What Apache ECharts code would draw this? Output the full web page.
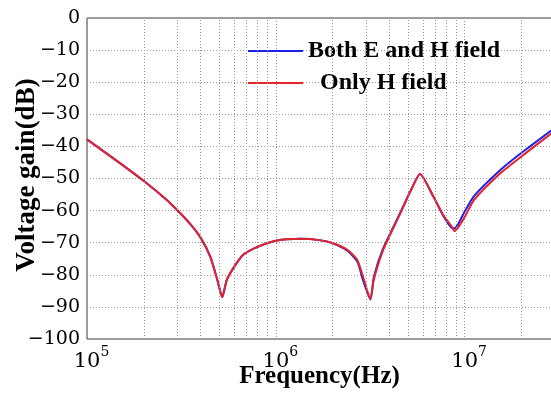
<!DOCTYPE html>
<html>
<head>
<meta charset="utf-8">
<script src="https://cdn.jsdelivr.net/npm/echarts@6/dist/echarts.min.js"></script>
<style>
  html, body { margin: 0; padding: 0; background: #fff; }
  #chart { width: 551px; height: 396px; }
</style>
</head>
<body>
<div id="chart"></div>
<script>
// frequency points (Hz)
var freqHz = [1.0e5, 1.5e5, 2.0e5, 2.6e5, 3.0e5, 3.5e5, 4.0e5, 4.5e5, 4.9e5, 5.2e5,
  5.5e5, 6.0e5, 6.7e5, 8.0e5, 1.0e6, 1.35e6, 1.7e6, 2.0e6, 2.4e6, 2.7e6,
  2.9e6, 3.17e6, 3.3e6, 3.7e6, 4.6e6, 5.2e6, 5.8e6, 6.85e6, 7.7e6, 8.5e6,
  8.85e6, 1.0e7, 1.12e7, 1.55e7, 2.0e7, 2.9e7];
var bothEH = [-37.8, -45.3, -50.8, -56.3, -59.8, -64.0, -68.5, -74.4, -81.6, -87.0,
  -81.6, -77.6, -73.8, -71.3, -69.4, -68.8, -69.2, -70.2, -72.6, -75.9,
  -81.8, -87.7, -80.8, -71.8, -60.2, -53.5, -48.6, -55.8, -61.6, -65.3,
  -65.5, -60.3, -55.5, -47.3, -42.0, -34.9];
var onlyH = [-37.8, -45.3, -50.8, -56.3, -59.8, -64.0, -68.5, -74.4, -81.6, -87.0,
  -81.6, -77.6, -73.8, -71.3, -69.4, -68.8, -69.2, -70.1, -72.3, -75.4,
  -80.7, -87.5, -81.6, -72.3, -60.4, -53.6, -48.6, -55.8, -61.4, -64.8,
  -66.4, -62.0, -56.7, -48.3, -43.1, -35.8];
var minorGridHz = [2e5, 3e5, 4e5, 5e5, 6e5, 7e5, 8e5, 9e5,
  2e6, 3e6, 4e6, 5e6, 6e6, 7e6, 8e6, 9e6, 2e7];

function pairs(xs, ys) {
  return xs.map(function (x, i) { return [x, ys[i]]; });
}

var chart = echarts.init(document.getElementById('chart'));
var gridStyle = { color: '#9a9a9a', width: 1, type: [1, 2] };

chart.setOption({
  animation: false,
  backgroundColor: '#fff',
  grid: { left: 87, top: 18, right: -1, bottom: 57, show: true,
    outerBoundsMode: 'none', containLabel: false,
    borderColor: '#3a3a3a', borderWidth: 1, backgroundColor: 'transparent' },
  legend: {
    left: 243, top: 30, orient: 'vertical', itemWidth: 55, itemHeight: 2, itemGap: 0,
    textStyle: { fontFamily: 'Liberation Serif', fontWeight: 'bold', fontSize: 24,
      color: '#000', lineHeight: 32, rich: { p: { width: 12 } } },
    formatter: function (name) {
      return name === 'Only H field' ? '{p|}' + name : name;
    },
    data: [{ name: 'Both E and H field', icon: 'rect' }, { name: 'Only H field', icon: 'rect' }]
  },
  xAxis: {
    type: 'log', logBase: 10, min: 1e5, max: 2.9e7, interval: 1,
    name: 'Frequency(Hz)', nameLocation: 'middle', nameGap: 25, nameMoveOverlap: false,
    nameTextStyle: { fontFamily: 'Liberation Serif', fontWeight: 'bold', fontSize: 25, color: '#000' },
    axisLine: { show: false }, axisTick: { show: false },
    splitLine: { show: true, lineStyle: gridStyle },
    axisLabel: {
      showMaxLabel: false, margin: 6,
      formatter: function (v) {
        return '{p|}{b|10}{s|' + Math.round(Math.log10(v)) + '}';
      },
      rich: {
        p: { width: 9 },
        b: { fontFamily: 'DejaVu Serif', fontSize: 21, color: '#000', verticalAlign: 'bottom', lineHeight: 27 },
        s: { fontFamily: 'DejaVu Serif', fontSize: 14, color: '#000', verticalAlign: 'top', lineHeight: 27 }
      }
    }
  },
  yAxis: {
    type: 'value', min: -100, max: 0, interval: 10,
    name: 'Voltage gain(dB)', nameLocation: 'middle', nameGap: 46, nameRotate: 90, nameMoveOverlap: false,
    nameTextStyle: { fontFamily: 'Liberation Serif', fontWeight: 'bold', fontSize: 27, color: '#000',
      padding: [0, 0, 0, 7] },
    axisLine: { show: false }, axisTick: { show: false },
    splitLine: { show: true, lineStyle: gridStyle },
    axisLabel: {
      margin: 7, fontFamily: 'DejaVu Serif', fontSize: 19, color: '#000',
      formatter: function (v) { return v < 0 ? '\u2212' + (-v) : String(v); }
    }
  },
  series: [
    {
      name: 'minor grid', type: 'line', data: [], silent: true,
      markLine: {
        silent: true, symbol: 'none', label: { show: false },
        lineStyle: gridStyle,
        data: minorGridHz.map(function (f) { return { xAxis: f }; })
      }
    },
    {
      name: 'Both E and H field', type: 'line', data: pairs(freqHz, bothEH),
      showSymbol: false, symbol: 'none', smooth: 0.2, z: 3,
      color: '#1f1fe6', lineStyle: { width: 2, color: '#1f1fe6' }
    },
    {
      name: 'Only H field', type: 'line', data: pairs(freqHz, onlyH),
      showSymbol: false, symbol: 'none', smooth: 0.2, z: 4,
      color: '#e4232b', lineStyle: { width: 2, color: '#e4232b' }
    }
  ]
});
</script>
</body>
</html>
